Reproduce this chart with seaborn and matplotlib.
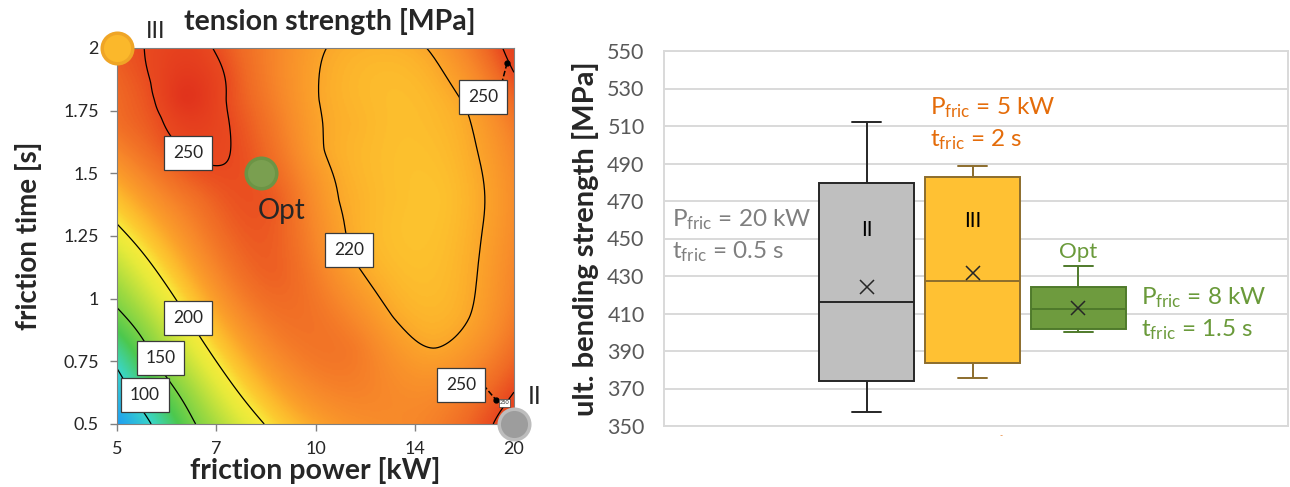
import numpy as np
import pandas as pd
import matplotlib
matplotlib.use("Agg")
import matplotlib.pyplot as plt
from matplotlib.colors import LinearSegmentedColormap, Normalize
import seaborn as sns

# ---------------- left panel: tension strength response surface ----------------
power_ticks = ["5", "7", "10", "14", "20"]            # kW, equally spaced factor levels
time_ticks = [0.5, 0.75, 1.0, 1.25, 1.5, 1.75, 2.0]   # s
time_tick_labels = ["0.5", "0.75", "1", "1.25", "1.5", "1.75", "2"]

# tension strength [MPa] on a grid of factor settings (power level position, time)
grid_power_pos = [0.0, 0.8, 1.6, 2.4, 3.2, 4.0]
grid_time = [0.5, 0.8, 1.1, 1.4, 1.7, 2.0]
strength_t050 = [72, 151, 206, 228, 234, 256]
strength_t080 = [115, 192, 232, 236, 220, 240]
strength_t110 = [172, 222, 244, 222, 213, 232]
strength_t140 = [212, 240, 245, 217, 211, 229]
strength_t170 = [240, 257, 236, 216, 214, 236]
strength_t200 = [246, 255, 232, 217, 222, 256]

# additional readings along the iso-strength lines and at the extrema
extra_pos = [0.28, 0.956, 1.108, 0.80, 0.452, 0.348, 0.384, 1.092, 0.68, 1.20, 1.35,
             2.108, 2.032, 2.08, 2.23, 2.336, 2.776, 3.556, 3.676, 3.628, 3.52, 3.124, 2.88,
             0.0, 1.484, 0.72, 0.0, 0.40, 0.0, 0.348,
             3.888, 4.0, 3.788, 4.0]
extra_time = [2.0, 2.0, 1.7525, 1.55, 1.7255, 1.8605, 1.793, 1.793, 1.805, 2.0, 1.75,
              2.0, 1.793, 1.593, 1.39, 1.1945, 0.9275, 0.9275, 1.262, 1.593, 1.76, 2.0, 1.40,
              1.298, 0.5, 0.92, 0.9635, 0.74, 0.7235, 0.5,
              2.0, 1.901, 0.5, 0.6275]
extra_strength = [250, 250, 250, 250, 250, 250, 250, 250, 266, 243, 243,
                  220, 220, 220, 220, 220, 220, 220, 220, 220, 220, 220, 212,
                  200, 200, 200, 150, 150, 100, 100,
                  250, 250, 250, 250]

contour_levels = [100, 150, 200, 250]
ellipse_level = 220

# setting points: III (5 kW, 2 s), Opt, II (20 kW, 0.5 s)
point_names = ["III", "Opt", "II"]
point_pos = [0.0, 1.45, 4.0]
point_time = [2.0, 1.5, 0.5]
point_fill = ["#FBB82B", "#7A9F50", "#9D9D9D"]
point_edge = ["#EFA526", "#6C9445", "#BDBDBD"]

# ---------------- right panel: ultimate bending strength ----------------
groups = ["II", "III", "Opt"]
whisker_low = [357.5, 375.8, 400.1]
quart_1 = [374.0, 383.4, 401.6]
medians = [416.3, 427.3, 412.2]
quart_3 = [479.4, 483.0, 424.3]
whisker_high = [512.0, 488.8, 435.5]
means = [424.3, 431.8, 412.8]
box_fill = ["#BFBFBF", "#FFC133", "#6E9B3E"]
box_edge = ["#262626", "#8C6D2C", "#4F7A2B"]
setting_power = ["20", "5", "8"]
setting_time = ["0.5", "2", "1.5"]
text_color = ["#7F7F7F", "#E46C0A", "#6A9A3A"]

# ---------------- style ----------------
sns.set_theme(style="white")
plt.rcParams["font.family"] = ["Lato", "DejaVu Sans"]
plt.rcParams["mathtext.fontset"] = "custom"
plt.rcParams["mathtext.rm"] = "Lato"
plt.rcParams["mathtext.it"] = "Lato:italic"
plt.rcParams["mathtext.bf"] = "Lato:bold"

fig = plt.figure(figsize=(12.9, 4.87), dpi=100)
W, H = 1290.0, 487.0
ax = fig.add_axes([117 / W, (H - 424) / H, 397 / W, 376 / H])
ax2 = fig.add_axes([664 / W, (H - 426) / H, 624 / W, 375 / H])

# ---- smoothing thin-plate spline surface through the strength readings ----
gp, gt = np.meshgrid(grid_power_pos, grid_time)
z_obs = np.concatenate([
    np.array([strength_t050, strength_t080, strength_t110,
              strength_t140, strength_t170, strength_t200], float).ravel(),
    np.array(extra_strength, float)])
u_obs = np.concatenate([gp.ravel(), extra_pos]) / 4.0
v_obs = (np.concatenate([gt.ravel(), extra_time]) - 0.5) / 1.5
pts = np.column_stack([u_obs, v_obs])


def tps_kernel(d):
    with np.errstate(divide="ignore", invalid="ignore"):
        k = d ** 2 * np.log(d)
    return np.where(d > 0, k, 0.0)


n = len(pts)
K = tps_kernel(np.linalg.norm(pts[:, None] - pts[None], axis=-1))
P = np.column_stack([np.ones(n), pts])
A = np.zeros((n + 3, n + 3))
A[:n, :n] = K + 8e-4 * np.eye(n)
A[:n, n:] = P
A[n:, :n] = P.T
sol = np.linalg.solve(A, np.concatenate([z_obs, np.zeros(3)]))
w, a = sol[:n], sol[n:]

pp = np.linspace(0, 4, 320)
tt = np.linspace(0.5, 2.0, 320)
PP, TT = np.meshgrid(pp, tt)
q = np.column_stack([PP.ravel() / 4.0, (TT.ravel() - 0.5) / 1.5])
Kq = tps_kernel(np.linalg.norm(q[:, None] - pts[None], axis=-1))
Z = (Kq @ w + a[0] + q @ a[1:]).reshape(PP.shape)

vmin, vmax = 70.0, 268.0
cmap_anchors = [(70, "#1E9CF5"), (100, "#3AD6C6"), (130, "#4CC84E"),
                (165, "#A0DA40"), (190, "#E6EA3A"), (200, "#F8EA3A"),
                (208, "#FCCB30"), (214, "#FDBB2D"), (222, "#FBA02A"),
                (232, "#F7872A"), (242, "#F06A25"), (250, "#E94A20"),
                (268, "#E0301C")]
cmap = LinearSegmentedColormap.from_list(
    "strength", [((v - vmin) / (vmax - vmin), c) for v, c in cmap_anchors])
norm = Normalize(vmin, vmax)
ax.imshow(Z, extent=[0, 4, 0.5, 2.0], origin="lower", aspect="auto",
          cmap=cmap, norm=norm, interpolation="bilinear", zorder=0)

ax.contour(PP, TT, Z, levels=contour_levels, colors="black", linewidths=0.9, zorder=2)
cs_e = ax.contour(PP, TT, Z, levels=[ellipse_level], colors="black", linewidths=0.9)
segs = cs_e.allsegs[0]
cs_e.remove()
if segs:
    centre = np.array([2.95, 1.4])
    best = min(segs, key=lambda s: np.linalg.norm(s.mean(axis=0) - centre))
    ax.plot(best[:, 0], best[:, 1], color="black", lw=0.9, zorder=2)

box_kw = dict(boxstyle="square,pad=0.5", fc="white", ec="#3A3A3A", lw=0.9)
label_spots = [(0.715, 1.581, 250), (2.338, 1.194, 220), (0.715, 0.923, 200),
               (0.438, 0.763, 150), (0.282, 0.616, 100),
               (3.688, 1.805, 250), (3.466, 0.656, 250)]
for x, y, lev in label_spots:
    ax.text(x, y, f"{lev}", ha="center", va="center", fontsize=12.5,
            bbox=box_kw, zorder=6)
ax.text(3.904, 0.584, "250", ha="center", va="center", fontsize=4,
        bbox=dict(boxstyle="square,pad=0.2", fc="white", ec="#3A3A3A", lw=0.5), zorder=6)
# leaders from detached labels to their contour pieces
ax.plot([3.93, 3.88], [1.94, 1.865], ls="--", color="black", lw=1.1, zorder=5)
ax.plot([3.93], [1.94], "o", color="black", ms=3.5, zorder=5)
ax.plot([3.69, 3.819], [0.656, 0.596], ls="--", color="black", lw=1.1, zorder=5)
ax.plot([3.819], [0.596], "o", color="black", ms=3.5, zorder=5)

for name, x, y, fc, ec in zip(point_names, point_pos, point_time, point_fill, point_edge):
    ax.plot([x], [y], "o", ms=22, mfc=fc, mec=ec, mew=2.5, clip_on=False, zorder=8)
ax.text(0.39, 2.064, "III", fontsize=17, ha="center", va="center", clip_on=False)
ax.text(1.66, 1.35, "Opt", fontsize=20, ha="center", va="center")
ax.text(4.21, 0.608, "II", fontsize=18, ha="center", va="center", clip_on=False)

ax.set_xlim(0, 4)
ax.set_ylim(0.5, 2.0)
ax.set_xticks(range(len(power_ticks)))
ax.set_xticklabels(power_ticks)
ax.set_yticks(time_ticks)
ax.set_yticklabels(time_tick_labels)
ax.tick_params(direction="out", length=5, width=1, color="#808080",
               labelsize=13, bottom=True, left=True)
ax.tick_params(axis="y", pad=8)
ax.tick_params(axis="x", pad=7)
for s in ax.spines.values():
    s.set_color("#808080")
    s.set_linewidth(0.8)
ax.set_xlabel("friction power [kW]", fontsize=20.5, fontweight="bold", labelpad=0)
ax.set_ylabel("friction time [s]", fontsize=20, fontweight="bold", labelpad=15)
ax.set_title("tension strength [MPa]", fontsize=20.5, fontweight="bold", x=0.535, pad=13)

# ---- box plots from the five-number summaries ----
rows = []
for g, lo, q1, me, q3, hi in zip(groups, whisker_low, quart_1, medians, quart_3, whisker_high):
    for val in (lo, q1, me, q3, hi):
        rows.append({"setting": g, "strength": val})
df = pd.DataFrame(rows)

sns.boxplot(data=df, x="setting", y="strength", hue="setting", palette=box_fill,
            order=groups, hue_order=groups, width=0.9, whis=(0, 100),
            showfliers=False, linewidth=1.4, legend=False, ax=ax2,
            capwidths=0.27, zorder=3)

for line in ax2.lines:
    xd = np.asarray(line.get_xdata(), float)
    if xd.size:
        i = int(np.clip(round(xd.mean()), 0, 2))
        line.set_color(box_edge[i])
        line.set_zorder(4)
for patch in ax2.patches:
    verts = patch.get_path().vertices
    i = int(np.clip(round(verts[:, 0].mean()), 0, 2))
    patch.set_edgecolor(box_edge[i])
    patch.set_facecolor(box_fill[i])
    patch.set_zorder(3)

ax2.plot(range(len(groups)), means, linestyle="none", marker="x", ms=10, mew=1.1,
         color="#262626", zorder=5)

ax2.set_ylim(350, 550)
ax2.set_yticks(np.arange(350, 551, 20))
ax2.set_xlim(-1.915, 3.98)
ax2.set_xticks([])
ax2.set_xlabel("")
ax2.grid(axis="y", color="#D9D9D9", linewidth=1.4)
ax2.set_axisbelow(True)
for s in ax2.spines.values():
    s.set_color("#D9D9D9")
    s.set_linewidth(1.4)
ax2.tick_params(left=False, bottom=False, labelsize=15.5, labelcolor="#595959", pad=8)
ax2.set_ylabel("ult. bending strength [MPa]", fontsize=21, fontweight="bold", labelpad=6)

# setting annotations
ax2.text(0, 454.5, groups[0], fontsize=15, ha="center", va="center", color="black", zorder=6)
ax2.text(1, 459.4, groups[1], fontsize=15, ha="center", va="center", color="black", zorder=6)
ax2.text(2, 439.4, groups[2], fontsize=16, ha="center", va="baseline", color=text_color[2], zorder=6)
anno_x = [-1.84, 0.594, 2.594]
anno_y = [(456.3, 439.4), (516.4, 499.3), (415.1, 397.6)]
for i in range(3):
    ax2.text(anno_x[i], anno_y[i][0], r"P$_{\mathrm{fric}}$ = " + setting_power[i] + " kW",
             fontsize=17.5, color=text_color[i], va="baseline", ha="left", zorder=6)
    ax2.text(anno_x[i], anno_y[i][1], r"t$_{\mathrm{fric}}$ = " + setting_time[i] + " s",
             fontsize=17.5, color=text_color[i], va="baseline", ha="left", zorder=6)
ax2.text(1.27, 345.0, "-", fontsize=6, color="#E46C0A", ha="center", va="center", clip_on=False)

fig.savefig("out.png", dpi=100)
